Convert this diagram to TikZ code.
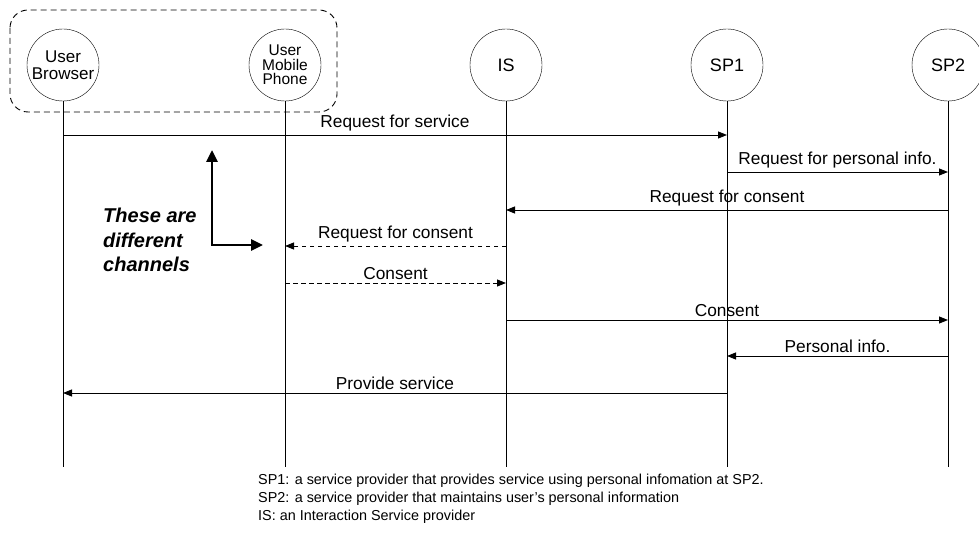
\documentclass[tikz,border=0pt]{standalone}
\usepackage{fontspec}
\setmainfont{Liberation Sans}
\usetikzlibrary{arrows.meta}
\begin{document}
\begin{tikzpicture}[x=1pt,y=-1pt,
  actor/.style={draw,circle,minimum size=72pt,inner sep=0pt,align=center,font=\fontsize{18}{18}\selectfont},
  life/.style={line width=0.9pt},
  msg/.style={line width=0.9pt,-{Triangle[length=9pt,width=7pt]}},
  dmsg/.style={msg,dash pattern=on 4.5pt off 3.5pt},
  lbl/.style={font=\fontsize{17.3}{18}\selectfont,inner sep=1pt}]
\useasboundingbox (0,0) rectangle (979,537);
\draw[dash pattern=on 6pt off 4pt,line width=0.9pt,rounded corners=18pt] (10,10) rectangle (337,112);
\node[actor,font=\fontsize{17}{17}\selectfont] (ub) at (63,65) {User\\Browser};
\node[actor,font=\fontsize{15.5}{14.5}\selectfont] (um) at (285,65) {User\\Mobile\\Phone};
\node[actor] (is) at (506,65) {IS};
\node[actor] (sp1) at (727,65) {SP1};
\node[actor] (sp2) at (948,65) {SP2};
\foreach \n/\x in {ub/63,um/285,is/506,sp1/727,sp2/948}{
  \coordinate (\n e) at (\x,467);
  \draw[life] (\n) -- (\n e);
}
% message anchor coordinates
\foreach \n/\x in {ub/63,um/285,is/506,sp1/727,sp2/948}{
  \foreach \k/\y in {a/135,b/172,c/210,d/246,e/283,f/320,g/356,h/393}{
    \coordinate (\n\k) at (\x,\y);
  }
}
\draw[msg] (uba) -- node[lbl,above=2pt] {Request for service} (sp1a);
\draw[msg] (sp1b) -- node[lbl,above=2pt] {Request for personal info.} (sp2b);
\draw[msg] (sp2c) -- node[lbl,above=2pt] {Request for consent} (isc);
\draw[dmsg] (isd) -- node[lbl,above=2pt] {Request for consent} (umd);
\draw[dmsg] (ume) -- node[lbl,above=2pt] {Consent} (ise);
\draw[msg] (isf) -- node[lbl,above=2pt] {Consent} (sp2f);
\draw[msg] (sp2g) -- node[lbl,above=2pt] {Personal info.} (sp1g);
\draw[msg] (sp1h) -- node[lbl,above=2pt] {Provide service} (ubh);
% different channels
\coordinate (chtop) at (212,150);
\coordinate (chcorner) at (212,245);
\coordinate (chright) at (263,245);
\draw[line width=2.8pt,{Triangle[length=12pt,width=11pt]}-{Triangle[length=12pt,width=11pt]}] (chtop) -- (chcorner) -- (chright);
\node[font=\fontsize{20}{24.5}\selectfont\bfseries\itshape,align=left,anchor=west,inner sep=0pt] (chtxt) at (103,240) {These are\\different\\channels};
\node[font=\fontsize{14.4}{18}\selectfont,align=left,anchor=north west,inner sep=0pt] (legend) at (258,474) {SP1: a service provider that provides service using personal infomation at SP2.\\SP2: a service provider that maintains user’s personal information\\IS: an Interaction Service provider};
\end{tikzpicture}
\end{document}
